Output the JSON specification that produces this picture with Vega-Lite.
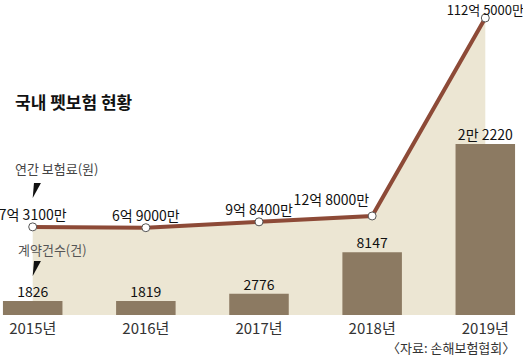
{
  "$schema": "https://vega.github.io/schema/vega-lite/v6.json",
  "autosize": "none",
  "padding": {"left": 0, "top": 0, "right": 5, "bottom": 41},
  "width": 518,
  "height": 315,
  "background": "white",
  "config": {"view": {"stroke": null}, "font": "Liberation Sans Narrow, Noto Sans CJK KR"},
  "datasets": {
    "main": [
      {"year": "2015년", "premium": 7.31, "premiumLabel": "7억 3100만", "contracts": 1826, "contractsLabel": "1826"},
      {"year": "2016년", "premium": 6.9, "premiumLabel": "6억 9000만", "contracts": 1819, "contractsLabel": "1819"},
      {"year": "2017년", "premium": 9.84, "premiumLabel": "9억 8400만", "contracts": 2776, "contractsLabel": "2776"},
      {"year": "2018년", "premium": 12.8, "premiumLabel": "12억 8000만", "contracts": 8147, "contractsLabel": "8147"},
      {"year": "2019년", "premium": 112.5, "premiumLabel": "112억 5000만", "contracts": 22220, "contractsLabel": "2만 2220"}
    ]
  },
  "data": {"name": "main"},
  "encoding": {
    "x": {
      "field": "year", "type": "ordinal", "sort": null,
      "scale": {"paddingInner": 0.474, "paddingOuter": 0.026},
      "axis": {"title": null, "domain": false, "ticks": false, "labelAngle": 0, "labelFontSize": 15, "labelColor": "#333333", "labelPadding": 6, "labelFont": "Liberation Sans Narrow, Noto Sans CJK KR"}
    }
  },
  "layer": [
    {
      "mark": {"type": "area", "color": "#ece6d3", "opacity": 1},
      "encoding": {
        "y": {"field": "premium", "type": "quantitative", "scale": {"domain": [-37.06, 121.55], "nice": false, "zero": false}, "axis": null},
        "y2": {"datum": -37.06}
      }
    },
    {
      "mark": {"type": "bar", "color": "#8c7a62"},
      "encoding": {
        "y": {"field": "contracts", "type": "quantitative", "scale": {"domain": [0, 40930], "nice": false}, "axis": null}
      }
    },
    {
      "mark": {"type": "text", "baseline": "alphabetic", "dy": -4, "fontSize": 14, "color": "#111111"},
      "encoding": {
        "y": {"field": "contracts", "type": "quantitative", "scale": {"domain": [0, 40930], "nice": false}, "axis": null},
        "text": {"field": "contractsLabel"}
      }
    },
    {
      "mark": {"type": "line", "color": "#8d4a37", "strokeWidth": 4},
      "encoding": {
        "y": {"field": "premium", "type": "quantitative", "scale": {"domain": [-37.06, 121.55], "nice": false, "zero": false}, "axis": null}
      }
    },
    {
      "mark": {"type": "point", "shape": "circle", "filled": true, "fill": "white", "stroke": "#555555", "strokeWidth": 1, "size": 64, "opacity": 1},
      "encoding": {
        "y": {"field": "premium", "type": "quantitative", "scale": {"domain": [-37.06, 121.55], "nice": false, "zero": false}, "axis": null}
      }
    },
    {
      "transform": [{"filter": "datum.year === '2015년' || datum.year === '2016년' || datum.year === '2017년'"}],
      "mark": {"type": "text", "baseline": "alphabetic", "dy": -7, "fontSize": 14, "color": "#111111"},
      "encoding": {
        "y": {"field": "premium", "type": "quantitative", "scale": {"domain": [-37.06, 121.55], "nice": false, "zero": false}, "axis": null},
        "text": {"field": "premiumLabel"}
      }
    },
    {
      "transform": [{"filter": "datum.year === '2019년'"}],
      "mark": {"type": "text", "baseline": "alphabetic", "dy": -3, "fontSize": 13, "color": "#111111"},
      "encoding": {
        "y": {"field": "premium", "type": "quantitative", "scale": {"domain": [-37.06, 121.55], "nice": false, "zero": false}, "axis": null},
        "text": {"field": "premiumLabel"}
      }
    },
    {
      "transform": [{"filter": "datum.year === '2018년'"}],
      "mark": {"type": "text", "baseline": "alphabetic", "align": "right", "dx": -3, "dy": -11, "fontSize": 14, "color": "#111111"},
      "encoding": {
        "y": {"field": "premium", "type": "quantitative", "scale": {"domain": [-37.06, 121.55], "nice": false, "zero": false}, "axis": null},
        "text": {"field": "premiumLabel"}
      }
    },
    {
      "data": {"values": [{}]},
      "mark": {"type": "text", "align": "left", "baseline": "middle", "dx": -17.7, "fontSize": 17, "fontWeight": "bold", "color": "#111111", "font": "Noto Sans CJK KR"},
      "encoding": {
        "x": {"datum": "2015년"},
        "y": {"datum": 69.2, "scale": {"domain": [-37.06, 121.55], "nice": false, "zero": false}, "axis": null},
        "text": {"value": "국내 펫보험 현황"}
      }
    },
    {
      "data": {"values": [{}]},
      "mark": {"type": "text", "align": "left", "baseline": "middle", "dx": -17.7, "fontSize": 13, "color": "#444444", "font": "Noto Sans CJK KR"},
      "encoding": {
        "x": {"datum": "2015년"},
        "y": {"datum": 35.95, "scale": {"domain": [-37.06, 121.55], "nice": false, "zero": false}, "axis": null},
        "text": {"value": "연간 보험료(원)"}
      }
    },
    {
      "data": {"values": [{}]},
      "mark": {"type": "text", "align": "left", "baseline": "middle", "dx": -14.7, "fontSize": 13, "color": "#555555", "font": "Noto Sans CJK KR"},
      "encoding": {
        "x": {"datum": "2015년"},
        "y": {"datum": -4.83, "scale": {"domain": [-37.06, 121.55], "nice": false, "zero": false}, "axis": null},
        "text": {"value": "계약건수(건)"}
      }
    },
    {
      "data": {"values": [{"pos": 25.6}, {"pos": -13.6}]},
      "mark": {"type": "point", "shape": "M 0.17 -1 L 1.1 -1 L 0 1 Z", "filled": true, "color": "#111111", "size": 225, "opacity": 1},
      "encoding": {
        "x": {"datum": "2015년"},
        "y": {"field": "pos", "type": "quantitative", "scale": {"domain": [-37.06, 121.55], "nice": false, "zero": false}, "axis": null}
      }
    },
    {
      "data": {"values": [{}]},
      "mark": {"type": "text", "align": "right", "baseline": "middle", "dx": 30, "fontSize": 13, "color": "#333333", "font": "Noto Sans CJK KR"},
      "encoding": {
        "x": {"datum": "2019년"},
        "y": {"datum": -54.2, "scale": {"domain": [-37.06, 121.55], "nice": false, "zero": false}, "axis": null},
        "text": {"value": "〈자료: 손해보험협회〉"}
      }
    }
  ],
  "resolve": {"scale": {"y": "independent"}}
}
